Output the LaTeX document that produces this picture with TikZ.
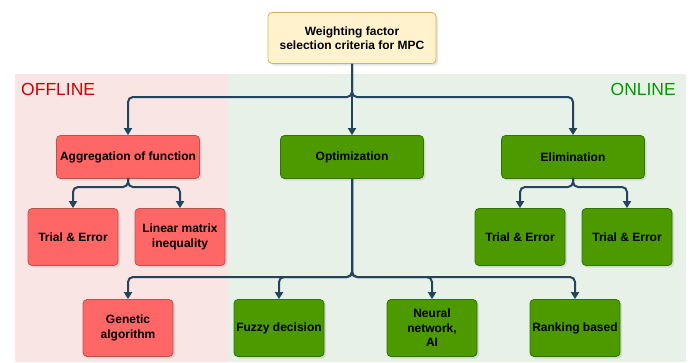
\documentclass[tikz,border=0pt]{standalone}
\usepackage{fontspec}
\setmainfont{Liberation Sans}
\usetikzlibrary{arrows.meta, positioning, shadows}
\definecolor{LinkBlue}{HTML}{23445D}
\definecolor{OffRed}{HTML}{FF6666}
\definecolor{OffRedLine}{HTML}{B85450}
\definecolor{OnGreen}{HTML}{4D9900}
\definecolor{OnGreenLine}{HTML}{2D7600}
\definecolor{RootFill}{HTML}{FFF2CC}
\definecolor{RootLine}{HTML}{D6B656}
\definecolor{OffBack}{HTML}{FAE5E5}
\definecolor{OnBack}{HTML}{E7F1E7}

\begin{document}
\begin{tikzpicture}[
    x=1pt, y=-1pt,
    every node/.style={font=\bfseries\fontsize{12}{14.5}\selectfont, align=center, inner sep=1pt},
    cutie/.style={rounded corners=4pt, line width=0.8pt,
                  drop shadow={opacity=0.2, shadow xshift=2pt, shadow yshift=-2pt}},
    offbox/.style={cutie, draw=OffRedLine, fill=OffRed},
    onbox/.style={cutie, draw=OnGreenLine, fill=OnGreen},
    wide/.style={minimum width=143pt, minimum height=43pt},
    small/.style={minimum width=90pt, minimum height=57pt},
    link/.style={draw=LinkBlue, line width=2pt, rounded corners=5pt,
                 -{Triangle[width=8pt, length=7pt]}}
]
\useasboundingbox (0,0) rectangle (690,362);

% offline / online areas
\fill[OffBack] (15,74) rectangle (228,362);
\fill[OnBack] (228,74) rectangle (686,362);
\node[font=\fontsize{17.5}{20}\selectfont, text=red!80!black, anchor=west] (offl) at (20,89) {OFFLINE};
\node[font=\fontsize{17.5}{20}\selectfont, text=green!60!black, anchor=east] (onl) at (677,89) {ONLINE};

% root
\node[cutie, draw=RootLine, fill=RootFill, minimum width=168pt, minimum height=51pt] (root) at (352,38)
    {Weighting factor\\selection criteria for MPC};

% second row
\node[offbox, wide] (agg) at (128,157) {Aggregation of function};
\node[onbox, wide] (opt) at (352,157) {Optimization};
\node[onbox, wide] (elim) at (573,157) {Elimination};

% third row
\node[offbox, small] (trial1) at (73,237) {Trial \& Error};
\node[offbox, small] (lmi) at (180,237) {Linear matrix\\inequality};
\node[onbox, small] (trial2) at (520,237) {Trial \& Error};
\node[onbox, small] (trial3) at (627,237) {Trial \& Error};

% fourth row
\node[offbox, small] (genetic) at (128,328) {Genetic\\algorithm};
\node[onbox, small] (fuzzy) at (279,328) {Fuzzy decision};
\node[onbox, small] (neural) at (432,328) {Neural\\network,\\AI};
\node[onbox, small] (rank) at (575,328) {Ranking based};

% connectors
\draw[link] (root.south) |- (352,97) -| (agg.north);
\draw[link] (root.south) -- (opt.north);
\draw[link] (root.south) |- (352,97) -| (elim.north);

\draw[link] (agg.south) |- (128,187) -| (trial1.north);
\draw[link] (agg.south) |- (128,187) -| (lmi.north);
\draw[link] (elim.south) |- (573,187) -| (trial2.north);
\draw[link] (elim.south) |- (573,187) -| (trial3.north);

\draw[link] (opt.south) |- (352,277) -| (genetic.north);
\draw[link] (opt.south) |- (352,277) -| (fuzzy.north);
\draw[link] (opt.south) |- (352,277) -| (neural.north);
\draw[link] (opt.south) |- (352,277) -| (rank.north);
\end{tikzpicture}
\end{document}
